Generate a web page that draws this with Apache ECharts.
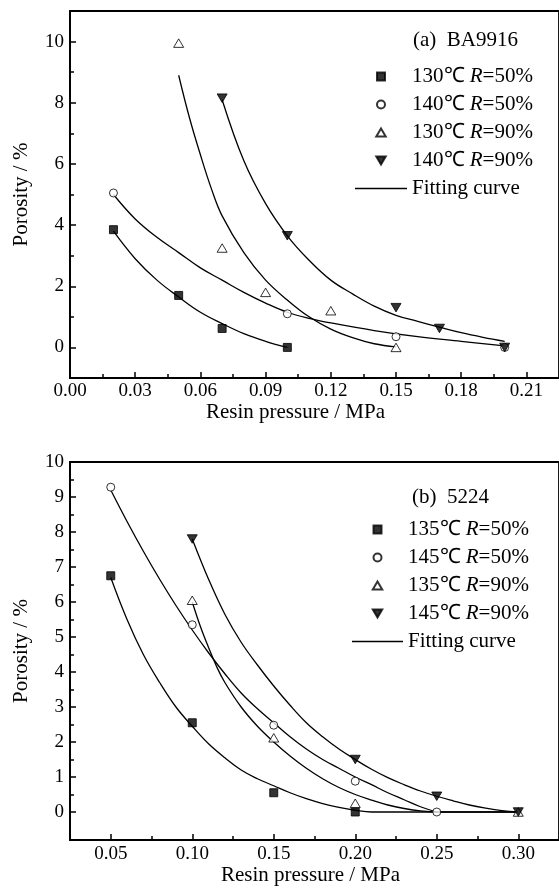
<!DOCTYPE html>
<html>
<head>
<meta charset="utf-8">
<script src="https://cdn.jsdelivr.net/npm/echarts@6.0.0/dist/echarts.min.js"></script>
<style>
html,body{margin:0;padding:0;background:#fff}
#chart{width:559px;height:888px}
</style>
</head>
<body>
<div id="chart"></div>
<script>
// (a) BA9916 - measured points
var a130r50 = [[0.02,3.85],[0.05,1.7],[0.07,0.62],[0.10,0.0]];
var a140r50 = [[0.02,5.05],[0.10,1.1],[0.15,0.35],[0.20,0.0]];
var a130r90 = [[0.05,9.95],[0.07,3.25],[0.09,1.8],[0.12,1.2],[0.15,0.0]];
var a140r90 = [[0.07,8.15],[0.10,3.65],[0.15,1.3],[0.17,0.62],[0.20,0.0]];
// (a) fitting curves
var aFit130r50 = [[0.02,3.8],[0.03,2.9],[0.04,2.2],[0.05,1.65],[0.06,1.15],[0.07,0.78],[0.08,0.45],[0.09,0.2],[0.10,0.0]];
var aFit140r50 = [[0.02,5.0],[0.03,4.2],[0.04,3.6],[0.05,3.1],[0.06,2.6],[0.07,2.2],[0.08,1.8],[0.09,1.45],[0.10,1.15],[0.11,0.95],[0.12,0.8],[0.14,0.55],[0.16,0.35],[0.18,0.2],[0.20,0.05]];
var aFit130r90 = [[0.05,8.9],[0.055,7.5],[0.06,6.3],[0.065,5.2],[0.07,4.3],[0.08,3.1],[0.09,2.2],[0.10,1.55],[0.11,1.0],[0.12,0.6],[0.13,0.32],[0.14,0.12],[0.15,0.02]];
var aFit140r90 = [[0.07,8.1],[0.08,6.1],[0.09,4.7],[0.10,3.65],[0.11,2.85],[0.12,2.2],[0.13,1.75],[0.14,1.35],[0.15,1.05],[0.16,0.85],[0.17,0.66],[0.18,0.48],[0.19,0.33],[0.20,0.2]];

// (b) 5224 - measured points
var b135r50 = [[0.05,6.75],[0.10,2.55],[0.15,0.55],[0.20,0.0]];
var b145r50 = [[0.05,9.28],[0.10,5.35],[0.15,2.48],[0.20,0.88],[0.25,0.0]];
var b135r90 = [[0.10,6.05],[0.15,2.12],[0.20,0.25],[0.30,0.0]];
var b145r90 = [[0.10,7.8],[0.20,1.5],[0.25,0.45],[0.30,0.0]];
// (b) fitting curves
var bFit135r50 = [[0.05,6.7],[0.06,5.5],[0.07,4.5],[0.08,3.7],[0.09,3.0],[0.10,2.45],[0.11,1.95],[0.12,1.55],[0.13,1.2],[0.14,0.95],[0.15,0.75],[0.16,0.55],[0.17,0.38],[0.18,0.24],[0.19,0.13],[0.20,0.05],[0.21,0.0],[0.30,0.0]];
var bFit145r50 = [[0.05,9.2],[0.06,8.3],[0.07,7.45],[0.08,6.65],[0.09,5.9],[0.10,5.2],[0.11,4.55],[0.12,3.95],[0.13,3.4],[0.14,2.95],[0.15,2.55],[0.16,2.15],[0.17,1.8],[0.18,1.5],[0.19,1.25],[0.20,1.0],[0.21,0.78],[0.22,0.55],[0.23,0.35],[0.24,0.15],[0.25,0.0]];
var bFit135r90 = [[0.10,6.0],[0.105,5.3],[0.11,4.7],[0.115,4.15],[0.12,3.7],[0.13,3.0],[0.14,2.45],[0.15,2.0],[0.16,1.6],[0.17,1.25],[0.18,0.95],[0.19,0.7],[0.20,0.5],[0.21,0.34],[0.22,0.2],[0.23,0.1],[0.24,0.03],[0.25,0.0],[0.30,0.0]];
var bFit145r90 = [[0.10,7.8],[0.11,6.65],[0.12,5.65],[0.13,4.85],[0.14,4.2],[0.15,3.6],[0.16,3.05],[0.17,2.55],[0.18,2.15],[0.19,1.8],[0.20,1.5],[0.21,1.22],[0.22,0.98],[0.23,0.78],[0.24,0.6],[0.25,0.45],[0.26,0.32],[0.27,0.2],[0.28,0.11],[0.29,0.04],[0.30,0.0]];

// tick values
var aXTicks = [0, 0.03, 0.06, 0.09, 0.12, 0.15, 0.18, 0.21];
var aXMinor = [0.015, 0.045, 0.075, 0.105, 0.135, 0.165, 0.195];
var aYTicks = [0, 2, 4, 6, 8, 10];
var aYMinor = [1, 3, 5, 7, 9];
var bXTicks = [0.05, 0.10, 0.15, 0.20, 0.25, 0.30];
var bXMinor = [0.075, 0.125, 0.175, 0.225, 0.275];
var bYTicks = [0, 1, 2, 3, 4, 5, 6, 7, 8, 9, 10];
var bYMinor = [0.5, 1.5, 2.5, 3.5, 4.5, 5.5, 6.5, 7.5, 8.5, 9.5];

var FONT = 'Liberation Serif';
var downTri = 'path://M0,0L20,0L10,17Z';
var upTri = 'path://M10,0L20,17L0,17Z';
var square = 'path://M0,0L10,0L10,10L0,10Z';
var lineIcon = 'path://M0,0L52,0L52,1.4L0,1.4Z';

var myChart = echarts.init(document.getElementById('chart'), null, {renderer: 'canvas'});

function mainX(grid, min, max, ticks, gap, margin, nameShift) {
    return {
        type: 'value', gridIndex: grid, min: min, max: max, position: 'bottom',
        axisLine: {show: true, onZero: false, lineStyle: {color: '#000', width: 1.8}},
        axisTick: {show: true, inside: true, length: 6, customValues: ticks, lineStyle: {color: '#000', width: 1.5}},
        axisLabel: {customValues: ticks, margin: margin, color: '#000', fontFamily: FONT, fontSize: 19,
            formatter: function (v) { return v.toFixed(2); }},
        splitLine: {show: false},
        name: 'Resin pressure / MPa', nameLocation: 'middle', nameGap: gap,
        nameTextStyle: {color: '#000', fontFamily: FONT, fontSize: 21, padding: nameShift}
    };
}
function mainY(grid, min, max, ticks) {
    return {
        type: 'value', gridIndex: grid, min: min, max: max, position: 'left',
        axisLine: {show: true, onZero: false, lineStyle: {color: '#000', width: 1.8}},
        axisTick: {show: true, inside: true, length: 6, customValues: ticks, lineStyle: {color: '#000', width: 1.5}},
        axisLabel: {customValues: ticks, margin: 6, color: '#000', fontFamily: FONT, fontSize: 19},
        splitLine: {show: false},
        name: 'Porosity / %', nameLocation: 'middle', nameGap: 38,
        nameTextStyle: {color: '#000', fontFamily: FONT, fontSize: 21}
    };
}
// minor ticks live on an overlay grid with the same box
function minorAxis(grid, min, max, ticks, pos) {
    return {
        type: 'value', gridIndex: grid, min: min, max: max, position: pos,
        axisLine: {show: false, onZero: false}, axisLabel: {show: false}, splitLine: {show: false},
        axisTick: {show: true, inside: true, length: 4, customValues: ticks, lineStyle: {color: '#000', width: 1.5}}
    };
}

function pts(name, data, xi, yi, symbol, size, filled) {
    return {
        name: name, type: 'scatter', xAxisIndex: xi, yAxisIndex: yi, data: data,
        symbol: symbol, symbolSize: size, symbolKeepAspect: true, z: 5,
        itemStyle: {color: filled ? '#000' : '#fff', borderColor: '#000', borderWidth: 1}
    };
}
function fit(data, xi, yi) {
    return {
        name: 'Fitting curve', type: 'line', xAxisIndex: xi, yAxisIndex: yi, data: data,
        smooth: 0.4, symbol: 'none', z: 3,
        itemStyle: {color: '#000'},
        lineStyle: {color: '#000', width: 1.3}
    };
}

function legendFmt(name) { return name.replace(' R=', ' {i|R}='); }
var legendText = {color: '#000', fontFamily: FONT, fontSize: 21, lineHeight: 21,
    rich: {i: {fontStyle: 'italic', fontFamily: FONT, fontSize: 21, lineHeight: 21, color: '#000'}}};

function legendData(names, symbols) {
    var out = [];
    for (var i = 0; i < names.length; i++) {
        out.push({name: names[i], icon: symbols[i]});
    }
    out.push({name: 'Fitting curve', icon: lineIcon, itemStyle: {color: '#000', borderWidth: 0}});
    return out;
}
var legendSymbols = [square, 'circle', upTri, downTri];

var gridA = {left: 70, top: 11, right: -5, height: 367};
var gridB = {left: 70, top: 462, right: -4, height: 378};

var option = {
    animation: false,
    backgroundColor: '#fff',
    grid: [
        {left: gridA.left, top: gridA.top, right: gridA.right, height: gridA.height, show: true, borderColor: '#000', borderWidth: 1.8},
        {left: gridB.left, top: gridB.top, right: gridB.right, height: gridB.height, show: true, borderColor: '#000', borderWidth: 1.8},
        {left: gridA.left, top: gridA.top, right: gridA.right, height: gridA.height},
        {left: gridB.left, top: gridB.top, right: gridB.right, height: gridB.height}
    ],
    xAxis: [
        mainX(0, 0, 0.225, aXTicks, 21, 4, [0, 38, 0, 0]),
        mainX(1, 0.025, 0.325, bXTicks, 25, 5, [0, 8, 0, 0]),
        minorAxis(2, 0, 0.225, aXMinor, 'bottom'),
        minorAxis(3, 0.025, 0.325, bXMinor, 'bottom')
    ],
    yAxis: [
        mainY(0, -1, 11, aYTicks),
        mainY(1, -0.8, 10, bYTicks),
        minorAxis(2, -1, 11, aYMinor, 'left'),
        minorAxis(3, -0.8, 10, bYMinor, 'left')
    ],
    legend: [
        {
            orient: 'vertical', left: 355, top: 66, padding: 0, itemWidth: 52, itemHeight: 8, itemGap: 7,
            align: 'left', selectedMode: false, symbolKeepAspect: true,
            textStyle: legendText, formatter: legendFmt,
            data: legendData(['130℃ R=50%', '140℃ R=50%', '130℃ R=90%', '140℃ R=90%'], legendSymbols)
        },
        {
            orient: 'vertical', left: 352, top: 519, padding: 0, itemWidth: 51, itemHeight: 8, itemGap: 7,
            align: 'left', selectedMode: false, symbolKeepAspect: true,
            textStyle: legendText, formatter: legendFmt,
            data: legendData(['135℃ R=50%', '145℃ R=50%', '135℃ R=90%', '145℃ R=90%'], legendSymbols)
        }
    ],
    graphic: [
        {type: 'text', left: 413, top: 30, style: {text: '(a)  BA9916', fill: '#000', font: '21px "Liberation Serif"'}},
        {type: 'text', left: 412, top: 487, style: {text: '(b)  5224', fill: '#000', font: '21px "Liberation Serif"'}}
    ],
    series: [
        fit(aFit130r50, 0, 0), fit(aFit140r50, 0, 0), fit(aFit130r90, 0, 0), fit(aFit140r90, 0, 0),
        pts('130℃ R=50%', a130r50, 0, 0, 'rect', 8, true),
        pts('140℃ R=50%', a140r50, 0, 0, 'circle', 8, false),
        pts('130℃ R=90%', a130r90, 0, 0, upTri, 10, false),
        pts('140℃ R=90%', a140r90, 0, 0, downTri, 10, true),
        fit(bFit135r50, 1, 1), fit(bFit145r50, 1, 1), fit(bFit135r90, 1, 1), fit(bFit145r90, 1, 1),
        pts('135℃ R=50%', b135r50, 1, 1, 'rect', 8, true),
        pts('145℃ R=50%', b145r50, 1, 1, 'circle', 8, false),
        pts('135℃ R=90%', b135r90, 1, 1, upTri, 10, false),
        pts('145℃ R=90%', b145r90, 1, 1, downTri, 10, true)
    ]
};
myChart.setOption(option);
</script>
</body>
</html>
